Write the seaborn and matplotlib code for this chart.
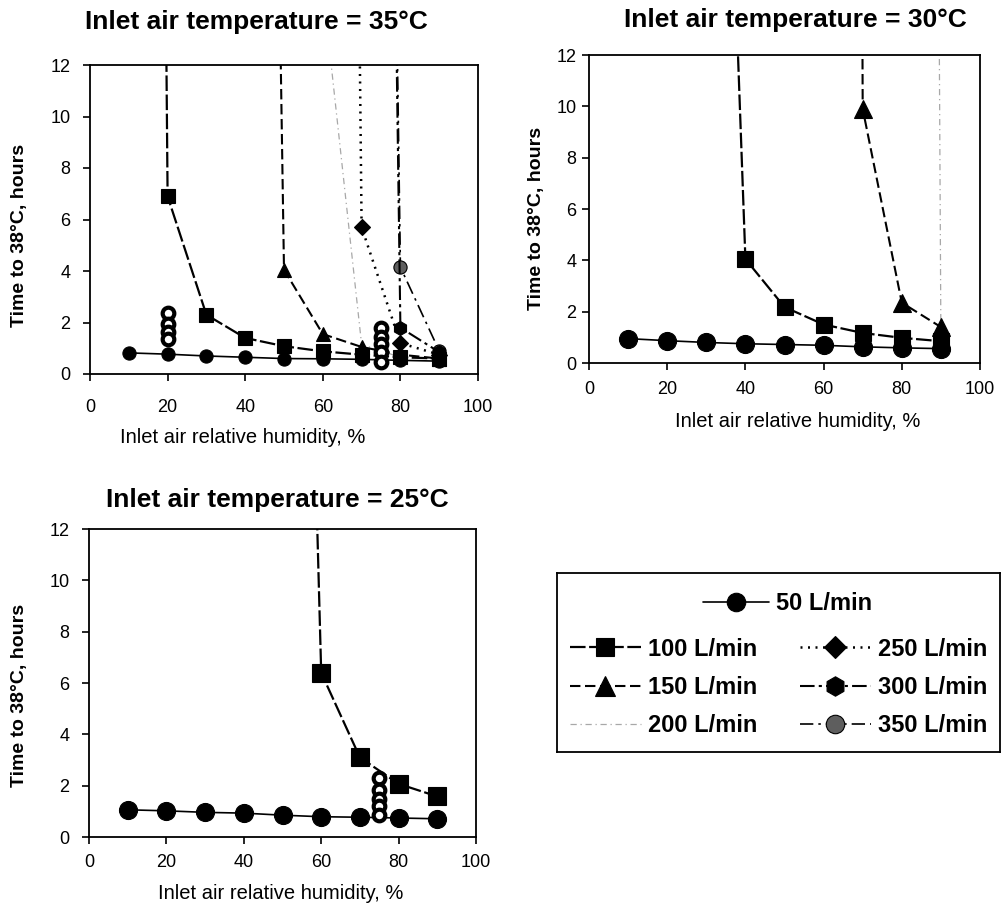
import matplotlib
matplotlib.use("Agg")
import matplotlib.pyplot as plt
import seaborn as sns

# inlet air relative humidity, %
rh = [10, 20, 30, 40, 50, 60, 70, 80, 90]

# ---------------- 35 C ----------------
t35_50 = [0.82, 0.77, 0.70, 0.65, 0.60, 0.59, 0.57, 0.53, 0.50]
rh35_100 = [10, 20, 30, 40, 50, 60, 70, 80, 90]
t35_100 = [180, 6.9, 2.3, 1.4, 1.08, 0.88, 0.75, 0.65, 0.6]
rh35_150 = [40, 50, 60, 70, 80, 90]
t35_150 = [100, 4.05, 1.55, 1.05, 0.75, 0.6]
rh35_200 = [60, 70, 80, 90]
t35_200 = [15, 1.15, 0.65, 0.6]
rh35_250 = [60, 70, 80, 90]
t35_250 = [150, 5.7, 1.2, 0.75]
rh35_300 = [70, 80, 90]
t35_300 = [110, 1.8, 0.85]
rh35_350 = [70, 80, 90]
t35_350 = [110, 4.15, 0.9]
open35_a = [2.35, 1.95, 1.65, 1.35]       # at 20 %
open35_b = [1.8, 1.45, 1.15, 0.85, 0.45]  # at 75 %

# ---------------- 30 C ----------------
t30_50 = [0.95, 0.87, 0.80, 0.75, 0.72, 0.69, 0.63, 0.59, 0.56]
rh30_100 = [30, 40, 50, 60, 70, 80, 90]
t30_100 = [46, 4.05, 2.18, 1.5, 1.17, 0.98, 0.85]
rh30_150 = [60, 70, 80, 90]
t30_150 = [400, 9.9, 2.35, 1.4]
rh30_200 = [80, 90]
t30_200 = [280, 1.0]

# ---------------- 25 C ----------------
t25_50 = [1.06, 1.02, 0.96, 0.93, 0.85, 0.79, 0.77, 0.74, 0.71]
rh25_100 = [50, 60, 70, 80, 90]
t25_100 = [62, 6.4, 3.1, 2.07, 1.58]
open25 = [2.3, 1.85, 1.5, 1.2, 0.85]      # at 75 %

STYLE = {
    "50":  dict(marker="o", ls="-", lw=1.2),
    "100": dict(marker="s", ls=(0, (7, 1.6)), lw=1.6),
    "150": dict(marker="^", ls=(0, (5, 2.2)), lw=1.5),
    "200": dict(marker="", ls=(0, (5, 3, 1, 3)), lw=0.9, color="#a8a8a8"),
    "250": dict(marker="D", ls=(0, (0.8, 2.2)), lw=1.8),
    "300": dict(marker="h", ls=(0, (7, 2, 1.5, 2)), lw=1.5),
    "350": dict(marker="o", ls=(0, (8, 3, 1.5, 3)), lw=1.2, mfc="#5e5e5e"),
}


def draw(ax, x, y, flow, ms):
    st = STYLE[flow]
    kw = dict(color=st.get("color", "black"), linestyle=st["ls"], linewidth=st["lw"])
    if st["marker"]:
        kw.update(marker=st["marker"], markersize=ms, markeredgecolor="black",
                  markerfacecolor=st.get("mfc", "black"), markeredgewidth=0.8)
    sns.lineplot(x=x, y=y, ax=ax, **kw)
    return ax.lines[-1]


def open_col(ax, xval, vals):
    sns.scatterplot(x=[xval] * len(vals), y=vals, ax=ax, marker="o", s=70,
                    color="white", edgecolor="black", linewidth=3, zorder=5)


sns.set_style("ticks")
plt.rcParams["font.family"] = ["Liberation Sans", "DejaVu Sans"]
plt.rcParams["text.color"] = "black"
plt.rcParams["axes.labelcolor"] = "black"
plt.rcParams["axes.titlecolor"] = "black"

W, H = 1005, 909
fig = plt.figure(figsize=(W / 100, H / 100), dpi=100)


def box(l, t, w, h):
    return [l / W, 1 - (t + h) / H, w / W, h / H]


ax1 = fig.add_axes(box(90, 65, 388, 309))
ax2 = fig.add_axes(box(589, 55, 391, 308))
ax3 = fig.add_axes(box(89, 529, 387, 308))
axl = fig.add_axes(box(557, 573, 443, 179))

# panel 35 C
handles = {}
handles["200"] = draw(ax1, rh35_200, t35_200, "200", 9)
handles["100"] = draw(ax1, rh35_100, t35_100, "100", 9.5)
handles["150"] = draw(ax1, rh35_150, t35_150, "150", 10)
handles["250"] = draw(ax1, rh35_250, t35_250, "250", 8)
handles["350"] = draw(ax1, rh35_350, t35_350, "350", 9.5)
handles["300"] = draw(ax1, rh35_300, t35_300, "300", 10)
handles["50"] = draw(ax1, rh, t35_50, "50", 9.5)
open_col(ax1, 20, open35_a)
open_col(ax1, 75, open35_b)

# panel 30 C
draw(ax2, rh30_200, t30_200, "200", 9)
draw(ax2, rh30_100, t30_100, "100", 12)
draw(ax2, rh30_150, t30_150, "150", 13)
draw(ax2, rh, t30_50, "50", 13)

# panel 25 C
draw(ax3, rh25_100, t25_100, "100", 12.5)
draw(ax3, rh, t25_50, "50", 13)
open_col(ax3, 75, open25)

titles = ["Inlet air temperature = 35°C", "Inlet air temperature = 30°C",
          "Inlet air temperature = 25°C"]
title_pos = [(0.43, 1.139), (0.527, 1.114), (0.486, 1.094)]
ylab_pos = [(-0.16, 0.45), (-0.112, 0.47), (-0.157, 0.46)]
xlab_pos = [(0.394, -0.175), (0.535, -0.159), (0.496, -0.153)]
xpads = [13, 8, 7]
ypads = [9, 4, 9]

for i, ax in enumerate([ax1, ax2, ax3]):
    ax.set_xlim(0, 100)
    ax.set_ylim(0, 12)
    ax.set_xticks(range(0, 101, 20))
    ax.set_yticks(range(0, 13, 2))
    for s in ax.spines.values():
        s.set_visible(True)
        s.set_linewidth(1.3)
        s.set_color("black")
    ax.tick_params(direction="out", length=5, width=1.2, labelsize=13, colors="black")
    ax.tick_params(axis="x", pad=xpads[i])
    ax.tick_params(axis="y", pad=ypads[i])
    ax.set_title(titles[i], x=title_pos[i][0], y=title_pos[i][1], pad=0,
                 va="center", fontsize=19, fontweight="bold", color="black")
    ax.set_ylabel("Time to 38°C, hours", fontsize=14, fontweight="bold")
    ax.yaxis.set_label_coords(*ylab_pos[i])
    ax.set_xlabel("Inlet air relative humidity, %", fontsize=14.5)
    ax.xaxis.set_label_coords(*xlab_pos[i])

# legend box
axl.set_xticks([])
axl.set_yticks([])
for s in axl.spines.values():
    s.set_visible(True)
    s.set_linewidth(1.3)
    s.set_color("black")

prop = dict(weight="bold", size=17)
leg1 = axl.legend([handles["50"]], ["50 L/min"], loc="center",
                  bbox_to_anchor=(0.52, 0.83), frameon=False, prop=prop,
                  handlelength=2.8, handletextpad=0.3, markerscale=1.4,
                  labelcolor="black")
axl.add_artist(leg1)
order = ["100", "150", "200", "250", "300", "350"]
axl.legend([handles[f] for f in order], [f + " L/min" for f in order],
           ncol=2, loc="center", bbox_to_anchor=(0.5, 0.36), frameon=False,
           prop=prop, handlelength=3, handletextpad=0.3, markerscale=1.4,
           labelspacing=0.65, columnspacing=1.8, labelcolor="black")

plt.savefig("out.png", dpi=100)
plt.close()
